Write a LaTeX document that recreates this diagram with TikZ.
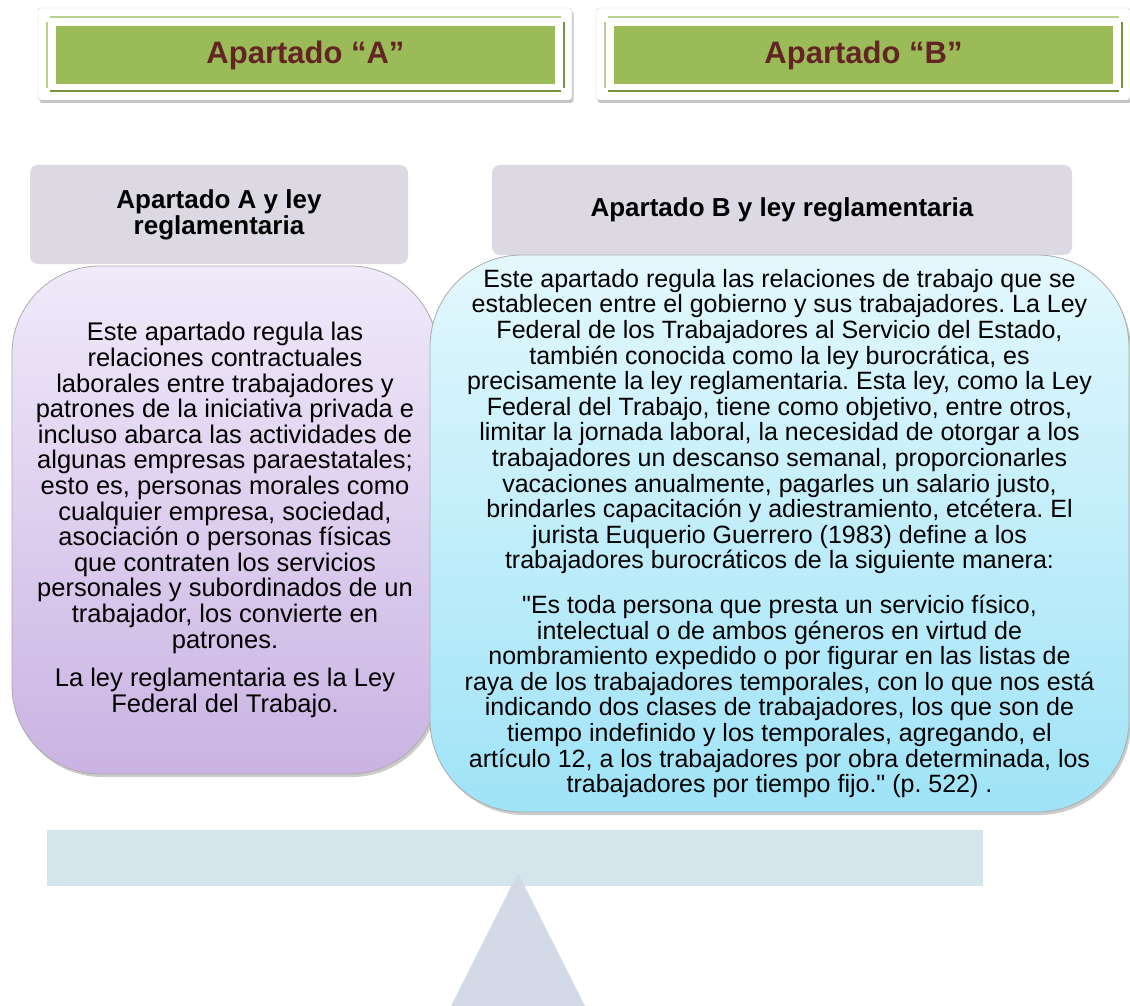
\documentclass[tikz,border=0pt]{standalone}
\usepackage{fontspec}
\setmainfont{Liberation Sans}[Ligatures=TeXOff]
\frenchspacing
\usetikzlibrary{shadows}
\definecolor{hdrgreen}{HTML}{9BBB59}
\definecolor{hdrlight}{HTML}{B9CF8F}
\definecolor{hdrdark}{HTML}{76933C}
\definecolor{hdrtext}{HTML}{632523}
\definecolor{titlegray}{HTML}{DCD9E3}
\definecolor{aTop}{HTML}{F0EAFA}
\definecolor{aBot}{HTML}{CAB3E3}
\definecolor{bTop}{HTML}{E3F8FD}
\definecolor{bBot}{HTML}{9FE3F7}
\definecolor{barcol}{HTML}{D4E5EC}
\definecolor{tricol}{HTML}{D3D9E7}
\tikzset{
  hdrframe/.style={draw=gray!35, fill=white, rounded corners=3, inner sep=0,
    minimum width=534, minimum height=92,
    drop shadow={opacity=0.45, shadow xshift=1.5pt, shadow yshift=-3pt}},
  hdrfill/.style={fill=hdrgreen, inner sep=0, minimum width=499, minimum height=58,
    text=hdrtext, font=\bfseries\fontsize{31}{31}\selectfont},
  titlebox/.style={fill=titlegray, rounded corners=8, inner sep=0, align=center,
    font=\bfseries\fontsize{26}{26}\selectfont},
  bigbox/.style={draw=gray!65, line width=0.8pt, rounded corners=88, inner sep=0, align=center,
    drop shadow={opacity=0.4, shadow xshift=2pt, shadow yshift=-3pt}},
  hline/.style={line width=2pt},
}
\begin{document}
\begin{tikzpicture}[x=1pt,y=-1pt]
\useasboundingbox (0,0) rectangle (1130,1006);
\fill[white] (0,0) rectangle (1130,1006);

% Header A
\node[hdrframe] (hA) at (305,54) {};
\draw[hline, hdrlight] (50,17) -- (561,17);
\draw[hline, hdrdark] (50,91) -- (561,91);
\draw[line width=1.5pt, hdrlight] (47,22) -- (47,88);
\draw[line width=1.5pt, hdrdark] (564,22) -- (564,88);
\node[hdrfill] (hAf) at (305.5,55) {Apartado “A”};

% Header B
\node[hdrframe] (hB) at (863,54) {};
\draw[hline, hdrlight] (608,17) -- (1119,17);
\draw[hline, hdrdark] (608,91) -- (1119,91);
\draw[line width=1.5pt, hdrlight] (605,22) -- (605,88);
\draw[line width=1.5pt, hdrdark] (1122,22) -- (1122,88);
\node[hdrfill] (hBf) at (863.5,55) {Apartado “B”};

% Title boxes
\node[titlebox, minimum width=378, minimum height=99] (tA) at (219,214.5) {Apartado A y ley\\reglamentaria};
\node[titlebox, minimum width=580, minimum height=90] (tB) at (782,210) {Apartado B y ley reglamentaria};

% Box A
\node[bigbox, top color=aTop, bottom color=aBot, minimum width=426, minimum height=508,
  font=\fontsize{25.5}{25.6}\selectfont] (bA) at (225,520) {%
Este apartado regula las\\
relaciones contractuales\\
laborales entre trabajadores y\\
patrones de la iniciativa privada e\\
incluso abarca las actividades de\\
algunas empresas paraestatales;\\
esto es, personas morales como\\
cualquier empresa, sociedad,\\
asociación o personas físicas\\
que contraten los servicios\\
personales y subordinados de un\\
trabajador, los convierte en\\
patrones.\\[13pt]
La ley reglamentaria es la Ley\\
Federal del Trabajo.};

% Box B
\node[bigbox, top color=bTop, bottom color=bBot, minimum width=699, minimum height=557,
  rounded corners=92, font=\fontsize{25}{25.6}\selectfont] (bB) at (779.5,533.5) {%
Este apartado regula las relaciones de trabajo que se\\
establecen entre el gobierno y sus trabajadores. La Ley\\
Federal de los Trabajadores al Servicio del Estado,\\
también conocida como la ley burocrática, es\\
precisamente la ley reglamentaria. Esta ley, como la Ley\\
Federal del Trabajo, tiene como objetivo, entre otros,\\
limitar la jornada laboral, la necesidad de otorgar a los\\
trabajadores un descanso semanal, proporcionarles\\
vacaciones anualmente, pagarles un salario justo,\\
brindarles capacitación y adiestramiento, etcétera. El\\
jurista Euquerio Guerrero (1983) define a los\\
trabajadores burocráticos de la siguiente manera:\\[19pt]
"Es toda persona que presta un servicio físico,\\
intelectual o de ambos géneros en virtud de\\
nombramiento expedido o por figurar en las listas de\\
raya de los trabajadores temporales, con lo que nos está\\
indicando dos clases de trabajadores, los que son de\\
tiempo indefinido y los temporales, agregando, el\\
artículo 12, a los trabajadores por obra determinada, los\\
trabajadores por tiempo fijo." (p. 522) .};

% Balance
\node[fill=barcol, inner sep=0, minimum width=936, minimum height=56] (bar) at (515,858) {};
\fill[tricol] (518,873) -- (451,1006) -- (585,1006) -- cycle;
\end{tikzpicture}
\end{document}
